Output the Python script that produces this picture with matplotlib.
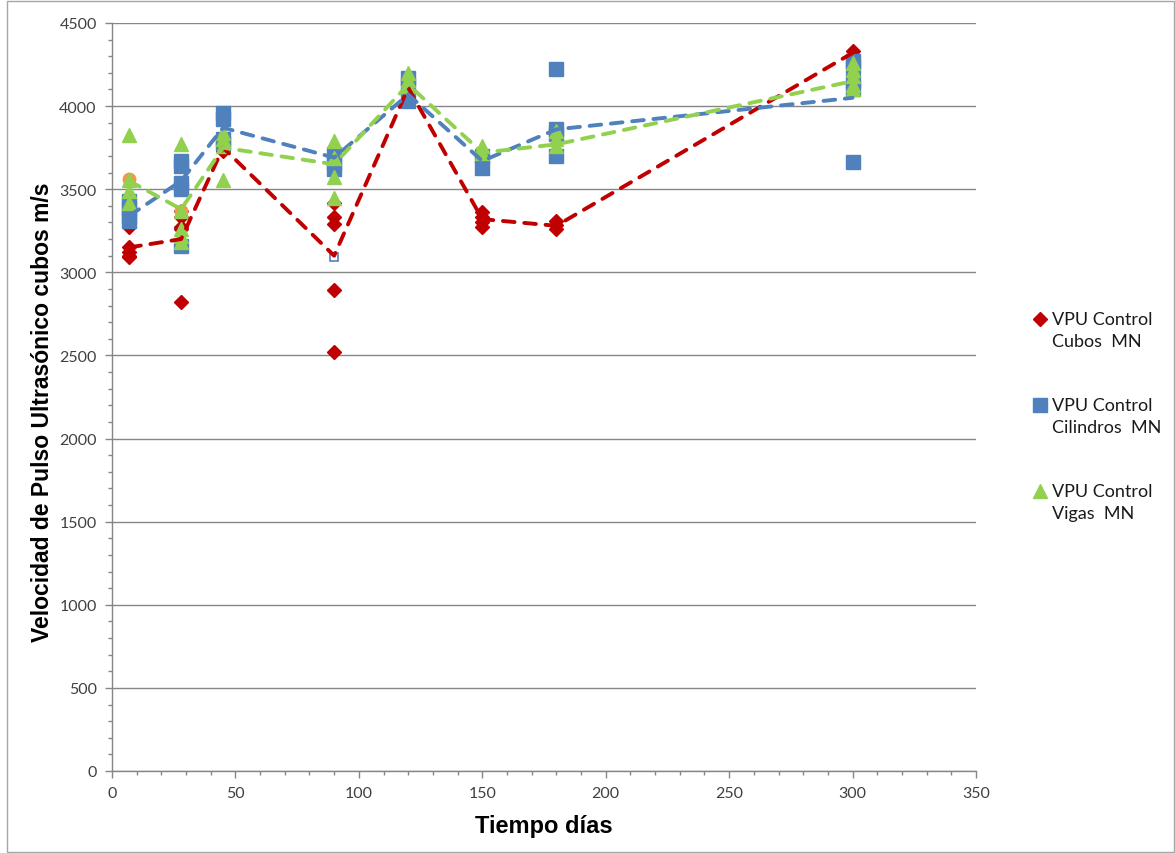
import matplotlib
matplotlib.use("Agg")
import matplotlib.pyplot as plt
from matplotlib.lines import Line2D
from matplotlib.patches import Rectangle
from matplotlib.ticker import MultipleLocator

# Edad del ensayo (días) y velocidades individuales medidas
dias_cubos = [7, 7, 7, 7, 7, 28, 28, 28, 28, 28, 45, 45, 90, 90, 90, 90, 90,
              120, 120, 150, 150, 150, 150, 180, 180, 180, 300, 300]
vpu_cubos = [3270, 3150, 3120, 3100, 3090, 3370, 3330, 3270, 3260, 2820, 3760, 3730,
             3420, 3330, 3290, 2895, 2520, 4110, 4090, 3360, 3330, 3300, 3275,
             3310, 3285, 3260, 4330, 4290]

dias_cil = [7, 7, 7, 7, 28, 28, 28, 28, 28, 45, 45, 45, 45, 90, 90, 90,
            120, 120, 120, 150, 150, 180, 180, 180, 180, 300, 300, 300, 300, 300]
vpu_cil = [3430, 3390, 3340, 3310, 3670, 3640, 3540, 3500, 3160, 3960, 3920, 3800, 3780,
           3710, 3660, 3620, 4170, 4130, 4030, 3700, 3630, 4225, 3860, 3830, 3700,
           4270, 4240, 4150, 4100, 3665]

dias_vigas = [7, 7, 7, 7, 28, 28, 28, 28, 28, 45, 45, 45, 45, 90, 90, 90, 90,
              120, 120, 120, 150, 150, 180, 180, 180, 300, 300, 300, 300, 300]
vpu_vigas = [3825, 3555, 3490, 3420, 3770, 3370, 3260, 3220, 3180, 3840, 3800, 3760, 3555,
             3790, 3690, 3575, 3450, 4200, 4160, 4120, 3760, 3720, 3850, 3800, 3760,
             4260, 4220, 4180, 4130, 4100]

# Puntos auxiliares
dias_aux = [7, 28, 300]
vpu_aux = [3560, 3370, 4160]
dias_hueco = [90]
vpu_hueco = [3095]

# Promedios por edad (líneas discontinuas)
dias_prom = [7, 28, 45, 90, 120, 150, 180, 300]
prom_cubos = [3150, 3200, 3750, 3100, 4110, 3320, 3280, 4320]
prom_cil = [3340, 3550, 3870, 3690, 4070, 3670, 3860, 4050]
prom_vigas = [3550, 3380, 3750, 3650, 4130, 3720, 3770, 4150]

etiquetas = ["VPU Control\nCubos  MN", "VPU Control\nCilindros  MN", "VPU Control\nVigas  MN"]

ROJO = "#C00000"
AZUL = "#4F81BD"
VERDE = "#92D050"
NARANJA = "#F79646"
GRIS = "#868686"

fig = plt.figure(figsize=(11.75, 8.54), dpi=100)
ax = fig.add_axes([112 / 1175, 1 - 772 / 854, (976 - 112) / 1175, (772 - 24) / 854])

ax.plot(dias_cubos, vpu_cubos, linestyle="none", marker="D", markersize=7.5,
        color=ROJO, zorder=3)
ax.plot(dias_aux, vpu_aux, linestyle="none", marker="o", markersize=9,
        color=NARANJA, zorder=3)
ax.plot(dias_cil, vpu_cil, linestyle="none", marker="s", markersize=10,
        color=AZUL, zorder=4)
ax.plot(dias_vigas, vpu_vigas, linestyle="none", marker="^", markersize=10,
        color=VERDE, zorder=5)
ax.plot(dias_hueco, vpu_hueco, linestyle="none", marker="s", markersize=6,
        markerfacecolor="white", markeredgecolor=AZUL, markeredgewidth=1.2, zorder=5)

for serie, color in [(prom_cubos, ROJO), (prom_cil, AZUL), (prom_vigas, VERDE)]:
    ax.plot(dias_prom, serie, color=color, linewidth=2.8, dashes=(3.0, 2.5),
            dash_capstyle="round", zorder=6)

ax.set_xlim(0, 350)
ax.set_ylim(0, 4500)
ax.xaxis.set_major_locator(MultipleLocator(50))
ax.xaxis.set_minor_locator(MultipleLocator(10))
ax.yaxis.set_major_locator(MultipleLocator(500))
ax.yaxis.set_minor_locator(MultipleLocator(100))
ax.grid(axis="y", which="major", color=GRIS, linewidth=1.0, zorder=0)
ax.set_axisbelow(True)

for lado in ("top", "right"):
    ax.spines[lado].set_visible(False)
for lado in ("left", "bottom"):
    ax.spines[lado].set_color(GRIS)
    ax.spines[lado].set_linewidth(1.0)

ax.tick_params(axis="both", which="major", direction="out", length=5, width=1,
               color=GRIS, labelsize=11.5, labelcolor="#404040", pad=6)
ax.tick_params(axis="both", which="minor", direction="out", length=3, width=1,
               color=GRIS)
for lab in ax.get_xticklabels() + ax.get_yticklabels():
    lab.set_family("Lato")

ax.set_xlabel("Tiempo días", fontsize=17, fontweight="bold",
              family="Liberation Sans", labelpad=10)
ax.set_ylabel("Velocidad de Pulso Ultrasónico cubos m/s", fontsize=16.5,
              fontweight="bold", family="Liberation Sans", va="center")
ax.yaxis.set_label_coords(-0.081, 0.481)

# Leyenda a la derecha del gráfico
marcadores = [("D", ROJO, 7), ("s", AZUL, 10), ("^", VERDE, 10)]
for i, (texto, (mk, col, ms)) in enumerate(zip(etiquetas, marcadores)):
    y_px = 320 + 86 * i
    fig.add_artist(Line2D([1040 / 1175], [1 - y_px / 854], transform=fig.transFigure,
                          marker=mk, color=col, markersize=ms, linestyle="none"))
    fig.text(1052 / 1175, 1 - (y_px - 8) / 854, texto, fontsize=13, family="Lato",
             color="#1a1a1a", va="top", ha="left", linespacing=1.45)

fig.add_artist(Rectangle((7 / 1175, 0.001), 1 - 8 / 1175, 0.997,
                         transform=fig.transFigure, fill=False,
                         edgecolor="#a6a6a6", linewidth=1.0))

fig.savefig("out.png", dpi=100)
